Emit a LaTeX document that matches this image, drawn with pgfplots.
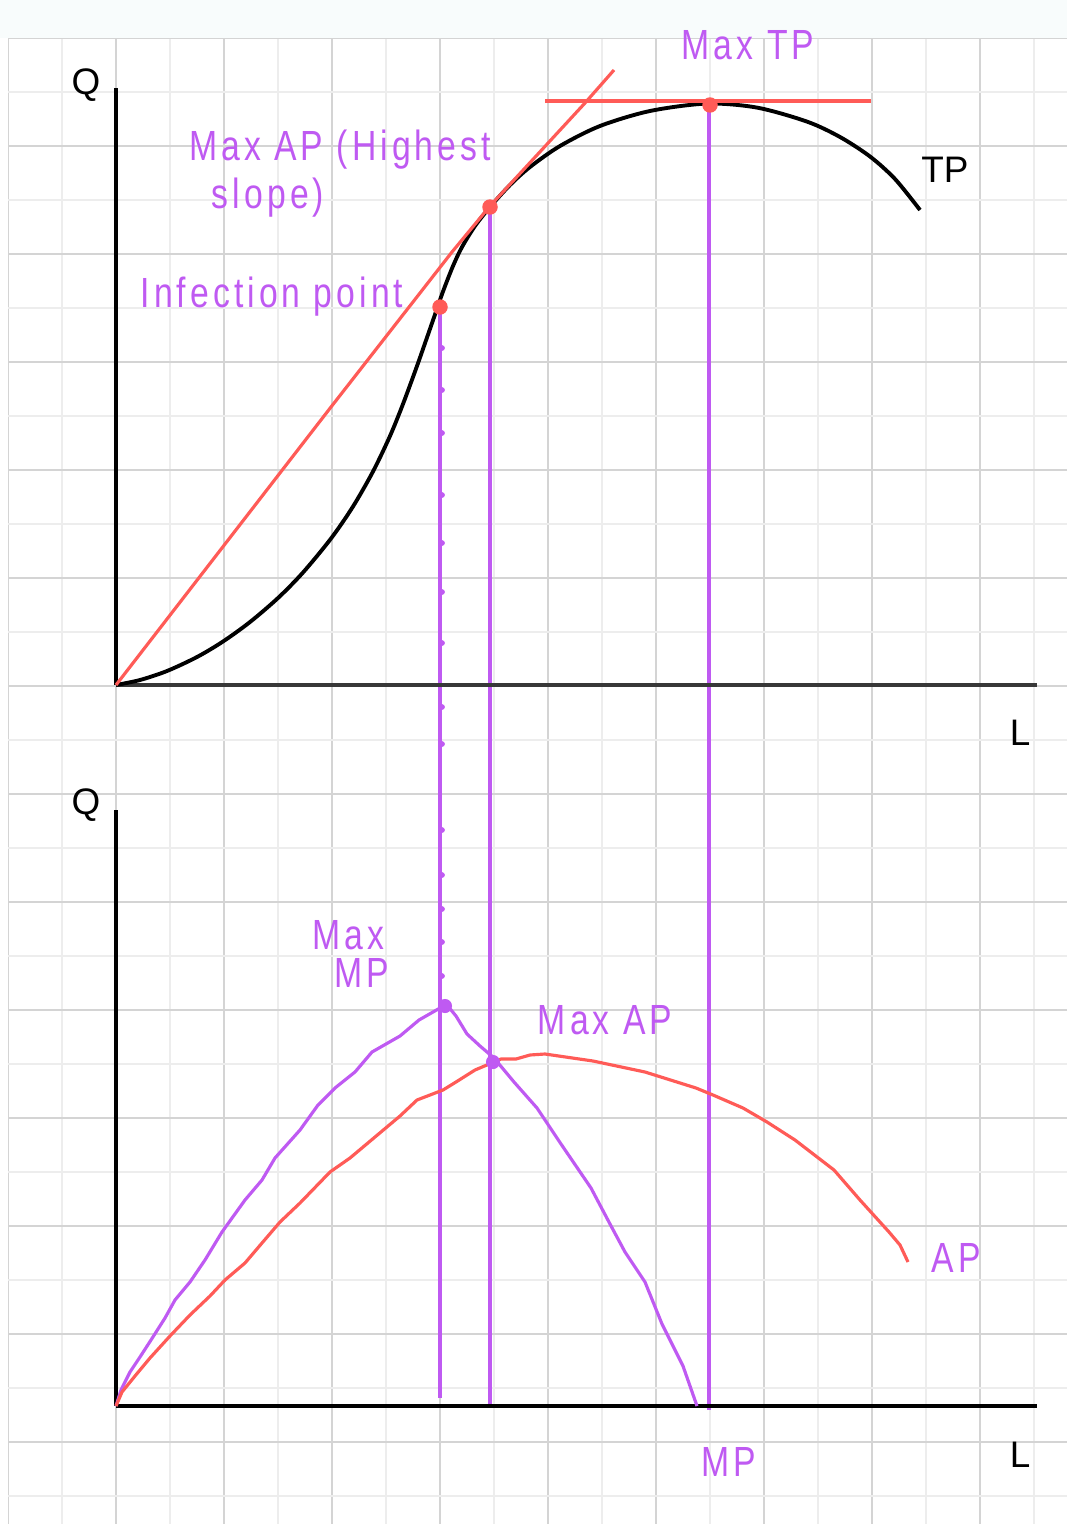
\documentclass[border=0pt]{standalone}
\usepackage{pgfplots}
\pgfplotsset{compat=1.18}
\usepackage{fontspec}
\setmainfont{Liberation Sans}
\newfontfamily\hand[LetterSpace=12]{Liberation Sans}
\definecolor{tpred}{HTML}{FF5B57}
\definecolor{mpurple}{HTML}{BF5AF2}
\definecolor{majgrid}{HTML}{D4D4D4}
\definecolor{mingrid}{HTML}{EDEDED}
\definecolor{band}{HTML}{F8FCFC}
% handwritten-ish purple labels
\newcommand{\hw}[1]{\scalebox{0.8}[1]{\hand\fontsize{12}{14}\selectfont #1}}
\newcommand{\lab}[1]{\fontsize{10.5}{12}\selectfont #1}
\begin{document}
\begin{tikzpicture}
\begin{axis}[
  name=ax,
  scale only axis,
  width=10.67cm, height=15.24cm,
  xmin=0, xmax=1067, ymin=0, ymax=1524,
  y dir=reverse,
  axis line style={draw=none},
  major tick length=0pt, minor tick length=0pt,
  xtick={8,116,...,1070}, minor xtick={62,170,...,1070},
  ytick={38,146,...,1524}, minor ytick={92,200,...,1524},
  xticklabels={}, yticklabels={},
  grid=both,
  major grid style={majgrid, line width=0.6pt},
  minor grid style={mingrid, line width=0.6pt},
  clip=false,
]
\fill[white] (0,0) rectangle (8,1524);
\fill[band] (0,0) rectangle (1067,38);

% guide lines
\addplot[mpurple, line width=0.9pt] coordinates {(440,300) (440,1398)};
\addplot[mpurple, line width=0.9pt] coordinates {(490,207) (490,1406)};
\addplot[mpurple, line width=0.9pt] coordinates {(709,105) (709,1410)};
\addplot[only marks, mark=*, mark size=0.6pt, mpurple] coordinates {
  (442,348) (442,390) (442,433) (442,495) (442,543) (442,592) (442,643)
  (442,707) (442,744) (442,830) (442,875) (442,909) (442,942) (442,976)};

% axes
\addplot[black, line width=1.1pt] coordinates {(116,88) (116,685)};
\addplot[black!78, line width=1.1pt] coordinates {(116,685) (1037,685)};
\addplot[black, line width=1.1pt] coordinates {(116,810) (116,1406)};
\addplot[black, line width=1.1pt] coordinates {(116,1406) (1037,1406)};

% TP
\addplot[black, line width=1.1pt, smooth] coordinates {
  (116,685) (140,680) (167,671) (197,657) (223,641.5) (250,622) (278,598)
  (303,572.5) (331,538.5) (353,506.5) (373,471.5) (390,436) (403,404) (417,366)
  (427,337.5) (435,314.5) (443,291.5) (453,266) (462,247) (475,226) (490,207)
  (510,185) (530,167) (560,146) (600,126) (650,111) (707,103.6) (757,107.6)
  (807,121.6) (840,137) (870,156.5) (895,179) (920,210)};

% tangent lines
\addplot[tpred, line width=0.9pt] coordinates {
  (116,685) (331,407) (452,252) (490,206) (585,103) (614,70)};
\addplot[tpred, line width=0.9pt] coordinates {(545,101) (871,101)};

% MP
\addplot[mpurple, line width=0.9pt] coordinates {
  (116,1406) (121,1390) (130,1372) (140,1357) (151,1340) (165,1318) (175,1300)
  (190,1282) (205,1260) (222,1232) (245,1200) (262,1180) (275,1158) (300,1130)
  (318,1105) (335,1088) (355,1072) (372,1052) (400,1036) (419,1020) (440,1008)
  (447,1005) (456,1016) (467,1034) (480,1046) (494,1058) (514,1082) (537,1108)
  (561,1144) (591,1188) (610,1224) (625,1252) (645,1282) (662,1324) (683,1366)
  (697,1406)};

% AP
\addplot[tpred, line width=0.9pt] coordinates {
  (116,1406) (122,1392) (135,1376) (150,1358) (170,1336) (190,1315) (210,1296)
  (225,1280) (245,1263) (262,1243) (280,1222) (300,1203) (330,1172) (350,1158)
  (375,1137) (400,1116) (417,1100) (443,1090) (456,1082) (475,1070) (501,1059)
  (516,1059) (530,1055) (545,1054) (593,1061) (645,1072) (696,1088) (713,1095)
  (743,1108) (767,1122) (795,1140) (834,1170) (860,1200) (889,1232) (900,1245)
  (908,1262)};

% points
\addplot[only marks, mark=*, mark size=2pt, tpred] coordinates {
  (440,307) (490,207) (710,105)};
\addplot[only marks, mark=*, mark size=1.8pt, mpurple] coordinates {
  (445,1006) (493,1062)};

% labels
\node at (86,85) {\lab{Q}};
\node at (1020,733) {\lab{L}};
\node at (86,805) {\lab{Q}};
\node at (1020,1455) {\lab{L}};
\node at (945,170) {\lab{TP}};

\node[mpurple] at (748,45) {\hw{Max TP}};
\node[mpurple] at (340,150) {\hw{Max AP (Highest}};
\node[mpurple] at (268,198) {\hw{slope)}};
\node[mpurple] at (272,297) {\hw{Infection point}};
\node[mpurple] at (348,935) {\hw{Max}};
\node[mpurple] at (362,973) {\hw{MP}};
\node[mpurple] at (605,1020) {\hw{Max AP}};
\node[mpurple] at (956,1258) {\hw{AP}};
\node[mpurple] at (729,1462) {\hw{MP}};
\end{axis}
\pgfresetboundingbox
\useasboundingbox (ax.south west) rectangle (ax.north east);
\end{tikzpicture}
\end{document}
